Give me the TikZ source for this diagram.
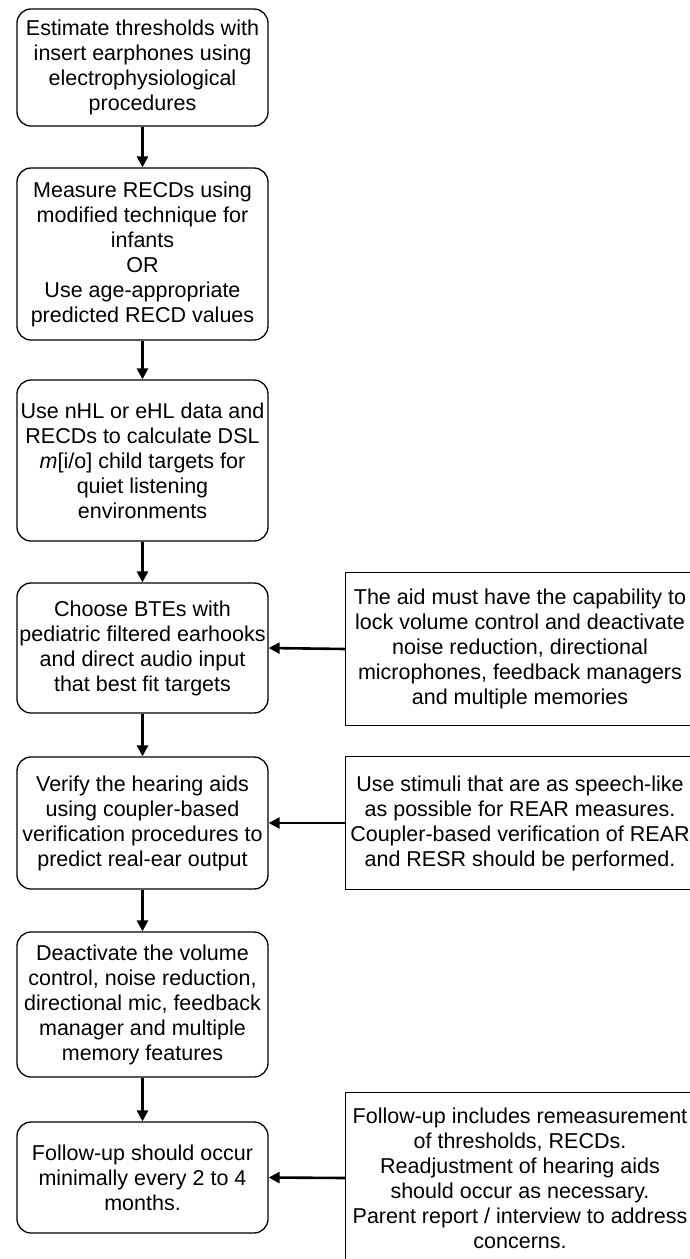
\documentclass[tikz,border=0pt]{standalone}
\usepackage{fontspec}
\setmainfont{Liberation Sans}
\usetikzlibrary{arrows.meta}
\begin{document}
\begin{tikzpicture}[x=1pt,y=-1pt,
  txt/.style={font=\fontsize{21.5pt}{25pt}\selectfont, align=center, inner sep=0pt},
  lbox/.style={txt, draw, line width=1.3pt, rounded corners=14pt, minimum width=251pt},
  rbox/.style={txt, minimum width=348pt},
  rframe/.style={line width=1.3pt},
  arr/.style={line width=2.6pt, -{Triangle[length=11pt,width=11pt]}}
]
\useasboundingbox (0,0) rectangle (690,1259);
\fill[white] (0,0) rectangle (690,1259);

\node[lbox, minimum height=117pt] (b1) at (142.5,67.5) {Estimate thresholds with\\insert earphones using\\electrophysiological\\procedures};
\node[lbox, minimum height=172pt] (b2) at (142.5,254) {Measure RECDs using\\modified technique for\\infants\\OR\\Use age-appropriate\\predicted RECD values};
\node[lbox, minimum height=161pt] (b3) at (142.5,460.5) {Use nHL or eHL data and\\RECDs to calculate DSL\\\textit{m}[i/o] child targets for\\quiet listening\\environments};
\node[lbox, minimum height=130pt] (b4) at (142.5,648) {Choose BTEs with\\pediatric filtered earhooks\\and direct audio input\\that best fit targets};
\node[lbox, minimum height=132pt] (b5) at (142.5,823) {Verify the hearing aids\\using coupler-based\\verification procedures to\\predict real-ear output};
\node[lbox, minimum height=145pt] (b6) at (142.5,1004.5) {Deactivate the volume\\control, noise reduction,\\directional mic, feedback\\manager and multiple\\memory features};
\node[lbox, minimum height=111pt] (b7) at (142.5,1177.5) {Follow-up should occur\\minimally every 2 to 4\\months.};

\node[rbox, minimum height=152pt] (r1) at (520,649) {The aid must have the capability to\\lock volume control and deactivate\\noise reduction, directional\\microphones, feedback managers\\and multiple memories};
\node[rbox, minimum height=132pt] (r2) at (520,823) {Use stimuli that are as speech-like\\as possible for REAR measures.\\Coupler-based verification of REAR\\and RESR should be performed.};
\node[rbox, minimum height=170pt] (r3) at (520,1178) {Follow-up includes remeasurement\\of thresholds, RECDs.\\Readjustment of hearing aids\\should occur as necessary.\\Parent report / interview to address\\concerns.};
\draw[rframe] (r1.north west) rectangle ([xshift=20pt]r1.south east);
\draw[rframe] (r2.north west) rectangle ([xshift=20pt]r2.south east);
\draw[rframe] (r3.north west) rectangle ([xshift=20pt]r3.south east);

\draw[arr] (b1.south) -- (b2.north);
\draw[arr] (b2.south) -- (b3.north);
\draw[arr] (b3.south) -- (b4.north);
\draw[arr] (b4.south) -- (b5.north);
\draw[arr] (b5.south) -- (b6.north);
\draw[arr] (b6.south) -- (b7.north);
\draw[arr] (r1.west) -- (b4.east);
\draw[arr] (r2.west) -- (b5.east);
\draw[arr] (r3.west) -- (b7.east);
\end{tikzpicture}
\end{document}
